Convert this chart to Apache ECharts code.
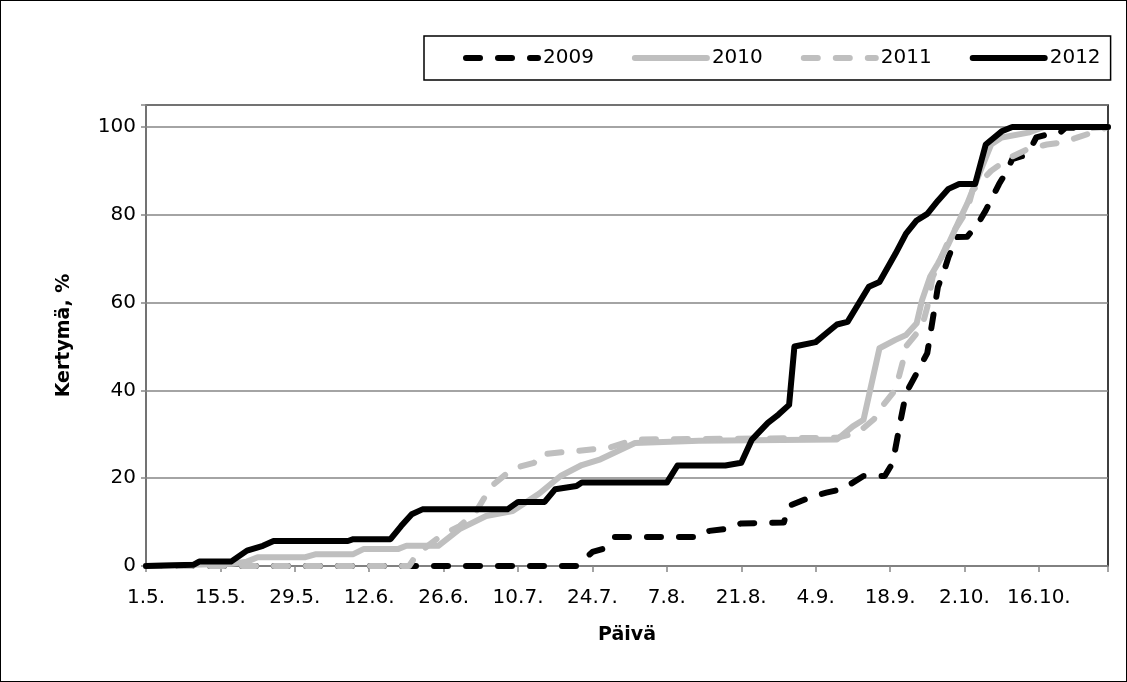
<!DOCTYPE html>
<html>
<head>
<meta charset="utf-8">
<script src="https://cdn.jsdelivr.net/npm/echarts@6/dist/echarts.min.js"></script>
<style>
  html, body { margin: 0; padding: 0; background: #fff; }
  #chart { width: 1127px; height: 682px; box-sizing: border-box; border: 1.5px solid #000; }
</style>
</head>
<body>
<div id="chart"></div>
<script>
// tick labels, one every 14 days counted from 1.5.
const TICK_LABELS = ['1.5.', '15.5.', '29.5.', '12.6.', '26.6.', '10.7.', '24.7.', '7.8.', '21.8.', '4.9.', '18.9.', '2.10.', '16.10.'];
const YEARS = ['2009', '2010', '2011', '2012'];

// x = days after 1.5., y = cumulative %
const DAY_2009 = [0, 81, 84, 86, 88, 104, 106, 109, 112, 120, 121, 125.5, 128, 131, 133, 135, 139, 140.5, 142, 143, 145, 147, 148, 149, 150, 151, 152.5, 154.5, 156.5, 158, 160.5, 162, 163, 165, 166.5, 167.5, 169.5, 172, 173, 181];
const PCT_2009 = [0, 0, 3.2, 3.9, 6.6, 6.6, 8, 8.4, 9.7, 9.9, 13.7, 15.9, 16.7, 17.5, 19, 20.5, 20.5, 23.5, 33.3, 39.4, 43.9, 48.5, 56, 63.6, 66.6, 70.4, 74.9, 75, 77.9, 81, 87, 90, 92.7, 93.4, 95.3, 97.6, 98.3, 98.7, 99.8, 100];

const DAY_2010 = [0, 16, 19, 21, 30, 32, 39, 41, 47.5, 49, 55, 59, 64, 69, 74, 78, 82, 85.5, 92, 104, 130, 133, 135, 138, 141, 143, 145, 146, 147.5, 149, 151, 153, 154.5, 156, 157, 159, 161, 166, 169, 181];
const PCT_2010 = [0, 0.5, 1, 2, 2, 2.7, 2.7, 3.9, 3.9, 4.6, 4.6, 8.4, 11.4, 12.5, 16.5, 20.5, 23, 24.3, 28, 28.5, 28.8, 31.8, 33.3, 49.6, 51.5, 52.6, 55.3, 60.5, 65.8, 68.9, 73.4, 78.7, 82.5, 87, 90, 96, 97.6, 98.7, 100, 100];

const DAY_2011 = [0, 49.5, 51, 55.5, 59, 62, 65, 69, 73, 74, 80, 87, 92, 130, 134, 137, 138, 141, 142.5, 143, 146, 147, 148, 151, 152.5, 154.5, 155.5, 159, 162.5, 166, 169.5, 172, 175, 178, 181];
const PCT_2011 = [0, 0, 2.7, 6.9, 9.1, 12.2, 18.2, 22.2, 23.5, 25.4, 26.1, 26.9, 28.8, 29.2, 30.4, 33.5, 35.6, 40.1, 47, 50, 54.5, 59, 65.8, 74.1, 77.2, 81, 85.5, 90, 93, 95, 96, 96.4, 97.5, 98.7, 100];

const DAY_2012 = [0, 9, 10, 16, 19, 22, 24, 38, 39, 46, 48, 50, 52, 68, 70, 75, 77, 81, 82, 98, 100, 109, 112, 114, 117, 119, 121, 122, 126, 128, 130, 132, 136, 138, 141, 143, 145, 147, 149, 151, 153, 156, 158, 161, 163, 181];
const PCT_2012 = [0, 0.3, 1, 1, 3.5, 4.6, 5.7, 5.7, 6.1, 6.1, 9.1, 11.8, 12.9, 12.9, 14.6, 14.6, 17.5, 18.2, 19, 19, 22.9, 22.9, 23.5, 28.8, 32.6, 34.5, 36.7, 50, 51, 53, 55, 55.6, 63.6, 64.7, 71.1, 75.7, 78.7, 80.2, 83.2, 85.9, 87, 87, 96, 99, 100, 100];

const LINE_W = 6;
const DASH = [14, 18];
const GRAY = '#bfbfbf';
const AXIS_GRAY = '#868686';
const FONT = 'DejaVu Sans';

function pairs(days, pct) {
  return days.map(function (d, i) { return [d, pct[i]]; });
}

function makeSeries(name, days, pct, color, dashed) {
  return {
    name: name,
    type: 'line',
    symbol: 'none',
    data: pairs(days, pct),
    color: color,
    lineStyle: {
      color: color,
      width: LINE_W,
      type: dashed ? DASH : 'solid',
      cap: 'round',
      join: 'round'
    },
    animation: false
  };
}

var chartDom = document.getElementById('chart');
var chart = echarts.init(chartDom);
var option = {
  backgroundColor: '#fff',
  textStyle: { fontFamily: FONT },
  legend: {
    data: YEARS,
    left: 423,
    top: 35,
    padding: [12, 10, 12, 39],
    itemWidth: 72,
    itemHeight: 14,
    itemGap: 38,
    borderColor: '#000',
    borderWidth: 1.5,
    itemStyle: { opacity: 0 },
    lineStyle: { width: LINE_W, cap: 'round', join: 'round' },
    textStyle: { fontFamily: FONT, fontSize: 20, color: '#000' }
  },
  grid: {
    left: 145,
    right: 18,
    top: 104,
    bottom: 115,
    show: true,
    borderColor: '#000',
    borderWidth: 1.5
  },
  xAxis: {
    type: 'value',
    min: 0,
    max: 181,
    interval: 14,
    name: 'Päivä',
    nameLocation: 'middle',
    nameGap: 60,
    nameTextStyle: { fontFamily: FONT, fontSize: 19, fontWeight: 'bold', color: '#000' },
    axisLine: { show: true, lineStyle: { color: AXIS_GRAY, width: 1.5 } },
    axisTick: { show: true, length: 6, lineStyle: { color: AXIS_GRAY, width: 1.5 } },
    splitLine: { show: false },
    axisLabel: {
      margin: 22,
      fontFamily: FONT,
      fontSize: 20,
      color: '#000',
      formatter: function (v) {
        return v % 14 === 0 ? (TICK_LABELS[v / 14] || '') : '';
      }
    }
  },
  yAxis: {
    type: 'value',
    min: 0,
    max: 105,
    interval: 20,
    name: 'Kertymä, %',
    nameLocation: 'middle',
    nameGap: 72,
    nameTextStyle: { fontFamily: FONT, fontSize: 19, fontWeight: 'bold', color: '#000' },
    axisLine: { show: true, lineStyle: { color: AXIS_GRAY, width: 1.5 } },
    axisTick: { show: true, length: 5, lineStyle: { color: AXIS_GRAY, width: 1.5 } },
    splitLine: { show: true, lineStyle: { color: AXIS_GRAY, width: 1.5 } },
    axisLabel: {
      margin: 10,
      fontFamily: FONT,
      fontSize: 20,
      color: '#000',
      formatter: function (v) { return v % 20 === 0 ? String(v) : ''; }
    }
  },
  series: [
    makeSeries('2009', DAY_2009, PCT_2009, '#000', true),
    makeSeries('2010', DAY_2010, PCT_2010, GRAY, false),
    makeSeries('2011', DAY_2011, PCT_2011, GRAY, true),
    makeSeries('2012', DAY_2012, PCT_2012, '#000', false)
  ]
};
chart.setOption(option);
</script>
</body>
</html>
